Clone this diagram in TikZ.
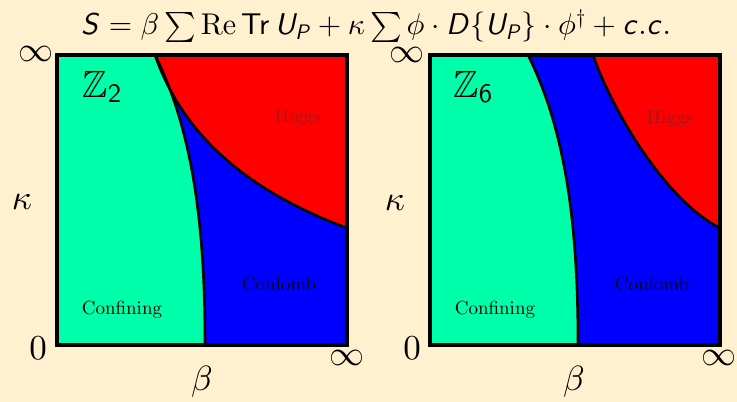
\documentclass[tikz,border=0pt]{standalone}
\usepackage{amssymb}
\DeclareFontShape{OML}{cmm}{m}{it}{<->cmmi10}{}
\DeclareFontShape{OMS}{cmsy}{m}{n}{<->cmsy10}{}
\DeclareFontShape{OT1}{cmr}{m}{n}{<->cmr10}{}
\DeclareFontShape{OMX}{cmex}{m}{n}{<->cmex10}{}
\DeclareFontFamily{OT1}{mycmss}{}
\DeclareFontShape{OT1}{mycmss}{m}{n}{<->cmss10}{}
\DeclareFontShape{OT1}{mycmss}{m}{sl}{<->cmssi10}{}
\DeclareMathAlphabet{\mathsfit}{OT1}{mycmss}{m}{sl}
\DeclareMathAlphabet{\mathsfup}{OT1}{mycmss}{m}{n}
\definecolor{bg}{RGB}{255,240,208}
\definecolor{confcol}{RGB}{0,255,170}
\definecolor{coulcol}{RGB}{0,0,255}
\definecolor{higgscol}{RGB}{255,0,0}
\definecolor{higgstext}{RGB}{160,25,25}
\begin{document}
\begin{tikzpicture}[x=1pt,y=1pt,
  bnd/.style={line width=2.6pt,black},
  frame/.style={line width=3.6pt,black,line join=miter},
  region/.style={font=\fontencoding{OT1}\fontfamily{cmr}\fontsize{19}{22}\selectfont},
  axis/.style={font=\fontsize{35}{40}\selectfont},
  grp/.style={font=\fontsize{38}{42}\selectfont}]
\fill[bg] (0,0) rectangle (737,402);
\useasboundingbox (0,0) rectangle (737,402);

\node (title) at (376,376) {\fontsize{30}{34}\selectfont $\mathsfit{S}=\beta\sum\mathrm{Re}\,\mathsfup{Tr}\,\mathsfit{U_P}+\kappa\sum\phi\cdot\mathsfit{D}\{\mathsfit{U_P}\}\cdot\phi^\dagger+\mathsfit{c.c.}$};

% panel 1
\begin{scope}[shift={(57,57)}]
  \fill[coulcol] (0,0) rectangle (290,290);
  \fill[confcol] (0,0) -- (148,0) .. controls (148,110) and (138,210) .. (98,290) -- (0,290) -- cycle;
  \fill[higgscol] (98,290) .. controls (123,218) and (180,158) .. (290,117) -- (290,290) -- cycle;
  \draw[bnd] (148,0) .. controls (148,110) and (138,210) .. (98,290);
  \draw[bnd] (98,290) .. controls (123,218) and (180,158) .. (290,117);
  \draw[frame] (0,0) rectangle (290,290);
\end{scope}
\node[grp] (z2) at (102,315) {$\mathbb{Z}_{\mathsfup{2}}$};
\node[region,text=higgstext] (h1) at (298,284) {Higgs};
\node[region] (c1) at (279,118) {Coulomb};
\node[region] (f1) at (122,92) {Confining};
\node[axis] (inf1) at (36,348) {$\infty$};
\node[axis] (zero1) at (38,54) {$0$};
\node[axis] (infb1) at (347,44) {$\infty$};
\node[axis] (beta1) at (202,20) {$\beta$};
\node[axis] (kap1) at (22,200) {$\kappa$};

% panel 2
\begin{scope}[shift={(430,57)}]
  \fill[coulcol] (0,0) rectangle (290,290);
  \fill[confcol] (0,0) -- (148,0) .. controls (148,110) and (138,210) .. (98,290) -- (0,290) -- cycle;
  \fill[higgscol] (163,290) .. controls (182,235) and (235,145) .. (290,117) -- (290,290) -- cycle;
  \draw[bnd] (148,0) .. controls (148,110) and (138,210) .. (98,290);
  \draw[bnd] (163,290) .. controls (182,235) and (235,145) .. (290,117);
  \draw[frame] (0,0) rectangle (290,290);
\end{scope}
\node[grp] (z6) at (473,315) {$\mathbb{Z}_{\mathsfup{6}}$};
\node[region,text=higgstext] (h2) at (670,283) {Higgs};
\node[region] (c2) at (652,118) {Coulomb};
\node[region] (f2) at (495,92) {Confining};
\node[axis] (inf2) at (407,347) {$\infty$};
\node[axis] (zero2) at (412,54) {$0$};
\node[axis] (infb2) at (719,44) {$\infty$};
\node[axis] (beta2) at (574,20) {$\beta$};
\node[axis] (kap2) at (395,199) {$\kappa$};
\end{tikzpicture}
\end{document}
